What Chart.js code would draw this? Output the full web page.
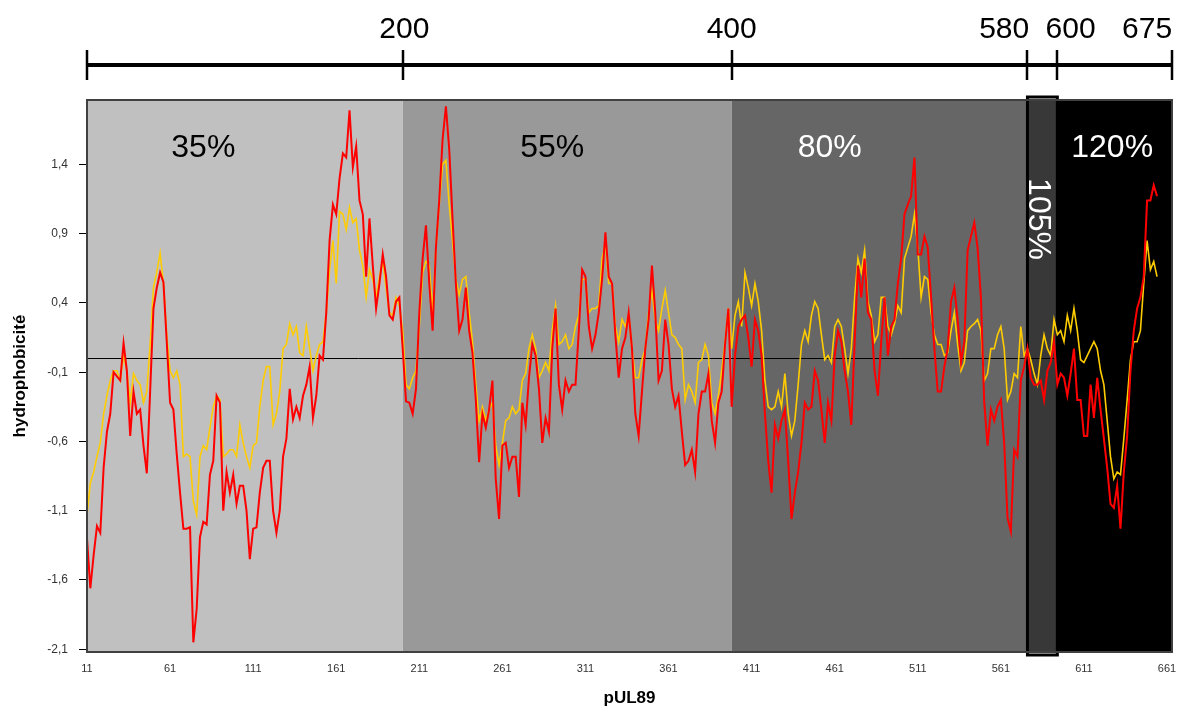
<!DOCTYPE html>
<html>
<head>
<meta charset="utf-8">
<script src="https://cdn.jsdelivr.net/npm/chart.js@4.4.1/dist/chart.umd.min.js"></script>
<style>
  body { margin: 0; background: #fff; }
  canvas { display: block; }
</style>
</head>
<body>
<canvas id="myChart" width="1189" height="713"></canvas>
<script>
// hydrophobicity profile of pUL89, one value every 2 residues starting at residue 11
const firstResidue = 11;
const residueStep = 2;

const redValues = [
  -1.30, -1.66, -1.42, -1.21, -1.26, -0.79, -0.53, -0.40, -0.10, -0.13,
  -0.16, 0.11, -0.09, -0.56, -0.24, -0.40, -0.37, -0.63, -0.83, -0.24,
  0.36, 0.51, 0.62, 0.55, 0.12, -0.32, -0.37, -0.69, -0.97, -1.23,
  -1.23, -1.22, -2.05, -1.81, -1.29, -1.18, -1.20, -0.84, -0.74, -0.27,
  -0.32, -1.10, -0.82, -0.97, -0.84, -1.05, -0.92, -0.92, -1.10, -1.45,
  -1.23, -1.22, -0.97, -0.79,
  -0.74, -0.74, -1.10, -1.26, -1.10, -0.71, -0.58, -0.22, -0.44, -0.35,
  -0.43, -0.27, -0.19, -0.06, -0.43, -0.27, 0.02, -0.01, 0.33, 0.85,
  1.11, 1.04, 1.30, 1.48, 1.45, 1.79, 1.38, 1.53, 1.14, 1.04,
  0.59, 1.01, 0.67, 0.36, 0.54, 0.75, 0.59, 0.31, 0.28, 0.41,
  0.44, 0.07, -0.31, -0.32, -0.40, -0.22, 0.33, 0.72, 0.96, 0.54,
  0.20, 0.80, 1.14, 1.58,
  1.82, 1.51, 1.01, 0.54, 0.20, 0.28, 0.51, 0.20, 0.04, -0.30,
  -0.75, -0.40, -0.50, -0.37, -0.16, -0.87, -1.16, -0.63, -0.61, -0.79,
  -0.71, -0.71, -1.00, -0.32, -0.48, -0.14, 0.10, 0.02, -0.22, -0.61,
  -0.43, -0.53, 0.07, 0.36, -0.19, -0.37, -0.16, -0.24, -0.19, -0.19,
  0.20, 0.64, 0.59, 0.23, 0.07, 0.17, 0.33, 0.57, 0.91, 0.59,
  0.54, 0.17, -0.14, 0.07,
  0.15, 0.33, 0.07, -0.40, -0.56, -0.24, 0.07, 0.28, 0.67, 0.33,
  -0.16, -0.09, 0.28, 0.10, -0.22, -0.35, -0.27, -0.53, -0.77, -0.74,
  -0.66, -0.82, -0.40, -0.24, -0.24, -0.11, -0.45, -0.61, -0.32, -0.24,
  0.10, 0.36, -0.35, 0.02, 0.23, 0.28, 0.31, 0.15, -0.06, 0.28,
  0.20, 0.02, -0.40, -0.74, -0.97, -0.48, -0.58, -0.45, -0.37, -0.74,
  -1.16, -0.97, -0.82, -0.61,
  -0.32, -0.37, -0.35, -0.09, -0.16, -0.37, -0.61, -0.32, -0.45, 0.02,
  0.20, 0.12, -0.09, -0.24, -0.48, 0.12, 0.67, 0.44, 0.72, 0.33,
  0.28, -0.09, -0.27, 0.12, 0.44, 0.02, 0.23, 0.28, 0.54, 0.72,
  1.04, 1.11, 1.17, 1.45, 0.75, 0.75, 0.88, 0.80, 0.44, 0.07,
  -0.24, -0.24, -0.06, 0.07, 0.41, 0.51, 0.28, -0.03, 0.12, 0.78,
  0.88, 0.98, 0.80, 0.44,
  -0.32, -0.63, -0.37, -0.45, -0.35, -0.30, -0.61, -1.15, -1.25, -0.66,
  -0.71, -0.16, -0.06, 0.07, -0.14, -0.19, -0.19, -0.16, -0.30, -0.09,
  -0.03, 0.12, -0.19, -0.11, -0.14, -0.27, -0.11, 0.07, -0.30, -0.30,
  -0.56, -0.56, -0.19, -0.43, -0.14, -0.37, -0.58, -0.79, -1.05, -1.08,
  -0.92, -1.23, -0.82, -0.56, -0.09, 0.20, 0.36, 0.44, 0.59, 1.14,
  1.14, 1.25, 1.17
];

const yellowValues = [
  -1.13, -0.90, -0.82, -0.71, -0.61, -0.40, -0.27, -0.16, -0.09, -0.09,
  -0.16, 0.02, -0.09, -0.32, -0.11, -0.16, -0.19, -0.32, -0.24, 0.10,
  0.51, 0.62, 0.76, 0.54, 0.17, -0.09, -0.14, -0.09, -0.19, -0.71,
  -0.69, -0.71, -1.03, -1.13, -0.71, -0.63, -0.66, -0.50, -0.35, -0.27,
  -0.30, -0.71, -0.69, -0.66, -0.66, -0.71, -0.48, -0.61, -0.71, -0.79,
  -0.63, -0.61, -0.35, -0.16,
  -0.06, -0.06, -0.48, -0.40, -0.24, 0.07, 0.10, 0.25, 0.17, 0.23,
  0.04, 0.02, 0.23, 0.07, -0.09, 0.02, 0.10, 0.12, 0.33, 0.64,
  0.85, 0.54, 1.06, 1.04, 0.93, 1.09, 0.98, 1.01, 0.78, 0.67,
  0.44, 0.64, 0.57, 0.44, 0.59, 0.70, 0.51, 0.33, 0.31, 0.44,
  0.38, 0.20, -0.19, -0.22, -0.14, -0.09, 0.23, 0.62, 0.70, 0.67,
  0.33, 0.80, 1.11, 1.40,
  1.43, 1.11, 0.85, 0.57, 0.46, 0.57, 0.59, 0.33, 0.12, -0.19,
  -0.45, -0.35, -0.45, -0.37, -0.32, -0.63, -0.77, -0.61, -0.45, -0.43,
  -0.35, -0.40, -0.37, -0.16, -0.11, 0.07, 0.17, 0.07, -0.14, -0.09,
  -0.03, -0.09, 0.20, 0.38, 0.10, 0.12, 0.17, 0.07, 0.10, 0.23,
  0.31, 0.57, 0.57, 0.33, 0.36, 0.36, 0.38, 0.72, 0.83, 0.54,
  0.54, 0.23, 0.12, 0.28,
  0.23, 0.31, 0.07, -0.14, -0.14, -0.01, 0.07, 0.33, 0.49, 0.28,
  0.20, 0.36, 0.49, 0.33, 0.17, 0.15, 0.10, 0.07, -0.30, -0.19,
  -0.24, -0.32, -0.03, -0.01, 0.10, 0.02, -0.32, -0.40, -0.27, -0.09,
  0.12, 0.36, 0.07, 0.31, 0.41, 0.23, 0.62, 0.51, 0.38, 0.54,
  0.41, 0.20, -0.16, -0.35, -0.37, -0.35, -0.24, -0.35, -0.11, -0.40,
  -0.56, -0.45, -0.19, 0.10,
  0.20, 0.12, 0.31, 0.41, 0.36, 0.17, -0.01, 0.02, -0.03, 0.23,
  0.28, 0.23, 0.07, -0.11, 0.07, 0.44, 0.72, 0.62, 0.78, 0.41,
  0.31, 0.12, 0.17, 0.44, 0.44, 0.23, 0.17, 0.25, 0.38, 0.33,
  0.72, 0.80, 0.88, 1.04, 0.80, 0.44, 0.59, 0.57, 0.33, 0.17,
  0.10, 0.10, 0.02, 0.04, 0.20, 0.33, 0.10, -0.09, -0.03, 0.20,
  0.23, 0.25, 0.28, 0.20,
  -0.16, -0.11, 0.07, 0.07, 0.17, 0.23, 0.07, -0.30, -0.24, -0.11,
  -0.14, 0.23, 0.02, 0.07, -0.01, -0.11, -0.19, 0.02, 0.17, 0.07,
  0.02, 0.28, 0.17, 0.20, 0.12, 0.31, 0.20, 0.36, 0.20, -0.01,
  -0.03, 0.02, 0.07, 0.12, 0.07, -0.09, -0.19, -0.45, -0.71, -0.87,
  -0.82, -0.84, -0.58, -0.30, -0.01, 0.12, 0.12, 0.20, 0.54, 0.85,
  0.64, 0.70, 0.59
];

const xTickLabels = [11, 61, 111, 161, 211, 261, 311, 361, 411, 461, 511, 561, 611, 661];
const yTickValues = [-2.1, -1.6, -1.1, -0.6, -0.1, 0.4, 0.9, 1.4];

// shaded regions (residue edges) and their labels
const regionEdges = [11, 201, 399, 577, 595, 664];
const regionColors = ['#c0c0c0', '#999999', '#666666', '#383838', '#000000'];
const regionLabels = ['35%', '55%', '80%', '105%', '120%'];
const regionLabelColors = ['#000', '#000', '#fff', '#fff', '#fff'];
const regionLabelAt = [81, 291, 458, 583, 628];

// ruler above the chart
const rulerTicks = [11, 201, 399, 577, 595, 664];
const rulerLabels = ['200', '400', '580', '600', '675'];
const rulerLabelAt = [202, 399, 563, 603, 649];

const residues = redValues.map((v, i) => firstResidue + residueStep * i);
const redPoints = residues.map((r, i) => ({ x: r, y: redValues[i] }));
const yellowPoints = residues.map((r, i) => ({ x: r, y: yellowValues[i] }));

const decorPlugin = {
  id: 'decor',
  beforeDatasetsDraw(chart) {
    const { ctx, chartArea: a, scales: { x, y } } = chart;
    ctx.save();
    for (let i = 0; i < regionColors.length; i++) {
      const x0 = x.getPixelForValue(regionEdges[i]);
      const x1 = x.getPixelForValue(regionEdges[i + 1]);
      ctx.fillStyle = regionColors[i];
      ctx.fillRect(x0, a.top, x1 - x0, a.bottom - a.top);
    }
    // zero line
    const y0 = Math.round(y.getPixelForValue(0)) + 0.5;
    ctx.strokeStyle = '#000';
    ctx.lineWidth = 1;
    ctx.beginPath();
    ctx.moveTo(a.left, y0);
    ctx.lineTo(a.right, y0);
    ctx.stroke();
    // box around the 105% band
    const b0 = x.getPixelForValue(regionEdges[3]);
    const b1 = x.getPixelForValue(regionEdges[4]);
    ctx.lineWidth = 3;
    ctx.strokeRect(b0, a.top - 3, b1 - b0, a.bottom - a.top + 6);
    ctx.restore();
  },
  afterDatasetsDraw(chart) {
    const { ctx, chartArea: a, scales: { x } } = chart;
    ctx.save();
    ctx.strokeStyle = '#404040';
    ctx.lineWidth = 2;
    ctx.strokeRect(a.left, a.top, a.right - a.left, a.bottom - a.top);

    ctx.font = '32px Arial, "Liberation Sans", sans-serif';
    ctx.textAlign = 'center';
    ctx.textBaseline = 'middle';
    regionLabels.forEach((t, i) => {
      ctx.fillStyle = regionLabelColors[i];
      const px = x.getPixelForValue(regionLabelAt[i]);
      if (t === '105%') {
        ctx.save();
        ctx.translate(px, 219);
        ctx.rotate(Math.PI / 2);
        ctx.fillText(t, 0, 0);
        ctx.restore();
      } else {
        ctx.fillText(t, px, 148);
      }
    });

    // ruler
    ctx.strokeStyle = '#000';
    ctx.fillStyle = '#000';
    ctx.lineWidth = 4;
    ctx.beginPath();
    ctx.moveTo(x.getPixelForValue(rulerTicks[0]), 65);
    ctx.lineTo(x.getPixelForValue(rulerTicks[rulerTicks.length - 1]), 65);
    ctx.stroke();
    ctx.lineWidth = 2.5;
    rulerTicks.forEach(r => {
      const px = Math.round(x.getPixelForValue(r));
      ctx.beginPath();
      ctx.moveTo(px, 50);
      ctx.lineTo(px, 80);
      ctx.stroke();
    });
    ctx.font = '30px Arial, "Liberation Sans", sans-serif';
    rulerLabels.forEach((t, i) => {
      ctx.fillText(t, x.getPixelForValue(rulerLabelAt[i]), 30);
    });
    ctx.restore();
  }
};

var ctx = document.getElementById('myChart').getContext('2d');

const config = {
  type: 'line',
  data: {
    datasets: [{
      label: 'rouge',
      data: redPoints,
      borderColor: '#ff0000',
      borderWidth: 2,
      pointRadius: 0,
      fill: false
    }, {
      label: 'jaune',
      data: yellowPoints,
      borderColor: '#ffcc00',
      borderWidth: 1.6,
      pointRadius: 0,
      fill: false
    }]
  },
  options: {
    responsive: false,
    animation: false,
    layout: { padding: { left: 0, top: 100, right: 17, bottom: 0 } },
    plugins: {
      legend: { display: false },
      tooltip: { enabled: false }
    },
    scales: {
      x: {
        type: 'linear',
        min: 11,
        max: 664,
        afterBuildTicks: s => { s.ticks = xTickLabels.map(v => ({ value: v })); },
        afterFit: s => { s.height = 61; },
        grid: { display: false },
        border: { display: false },
        ticks: {
          autoSkip: false,
          maxRotation: 0,
          padding: 2,
          color: '#333',
          font: { family: 'Arial', size: 11 }
        },
        title: {
          display: true,
          text: 'pUL89',
          color: '#000',
          padding: { top: 4, bottom: 4 },
          font: { family: 'Arial', size: 17, weight: 'bold' }
        }
      },
      y: {
        min: -2.12,
        max: 1.865,
        afterBuildTicks: s => { s.ticks = yTickValues.map(v => ({ value: v })); },
        afterFit: s => { s.width = 87; },
        grid: { drawOnChartArea: false, tickLength: 8, color: '#000' },
        border: { display: false },
        ticks: {
          padding: 11,
          color: '#333',
          font: { family: 'Arial', size: 12 },
          callback: v => v.toFixed(1).replace('.', ',')
        },
        title: {
          display: true,
          text: 'hydrophobicité',
          color: '#000',
          padding: { top: 10, bottom: 4 },
          font: { family: 'Arial', size: 17, weight: 'bold' }
        }
      }
    }
  },
  plugins: [decorPlugin]
};

var myChart = new Chart(ctx, config);
</script>
</body>
</html>
